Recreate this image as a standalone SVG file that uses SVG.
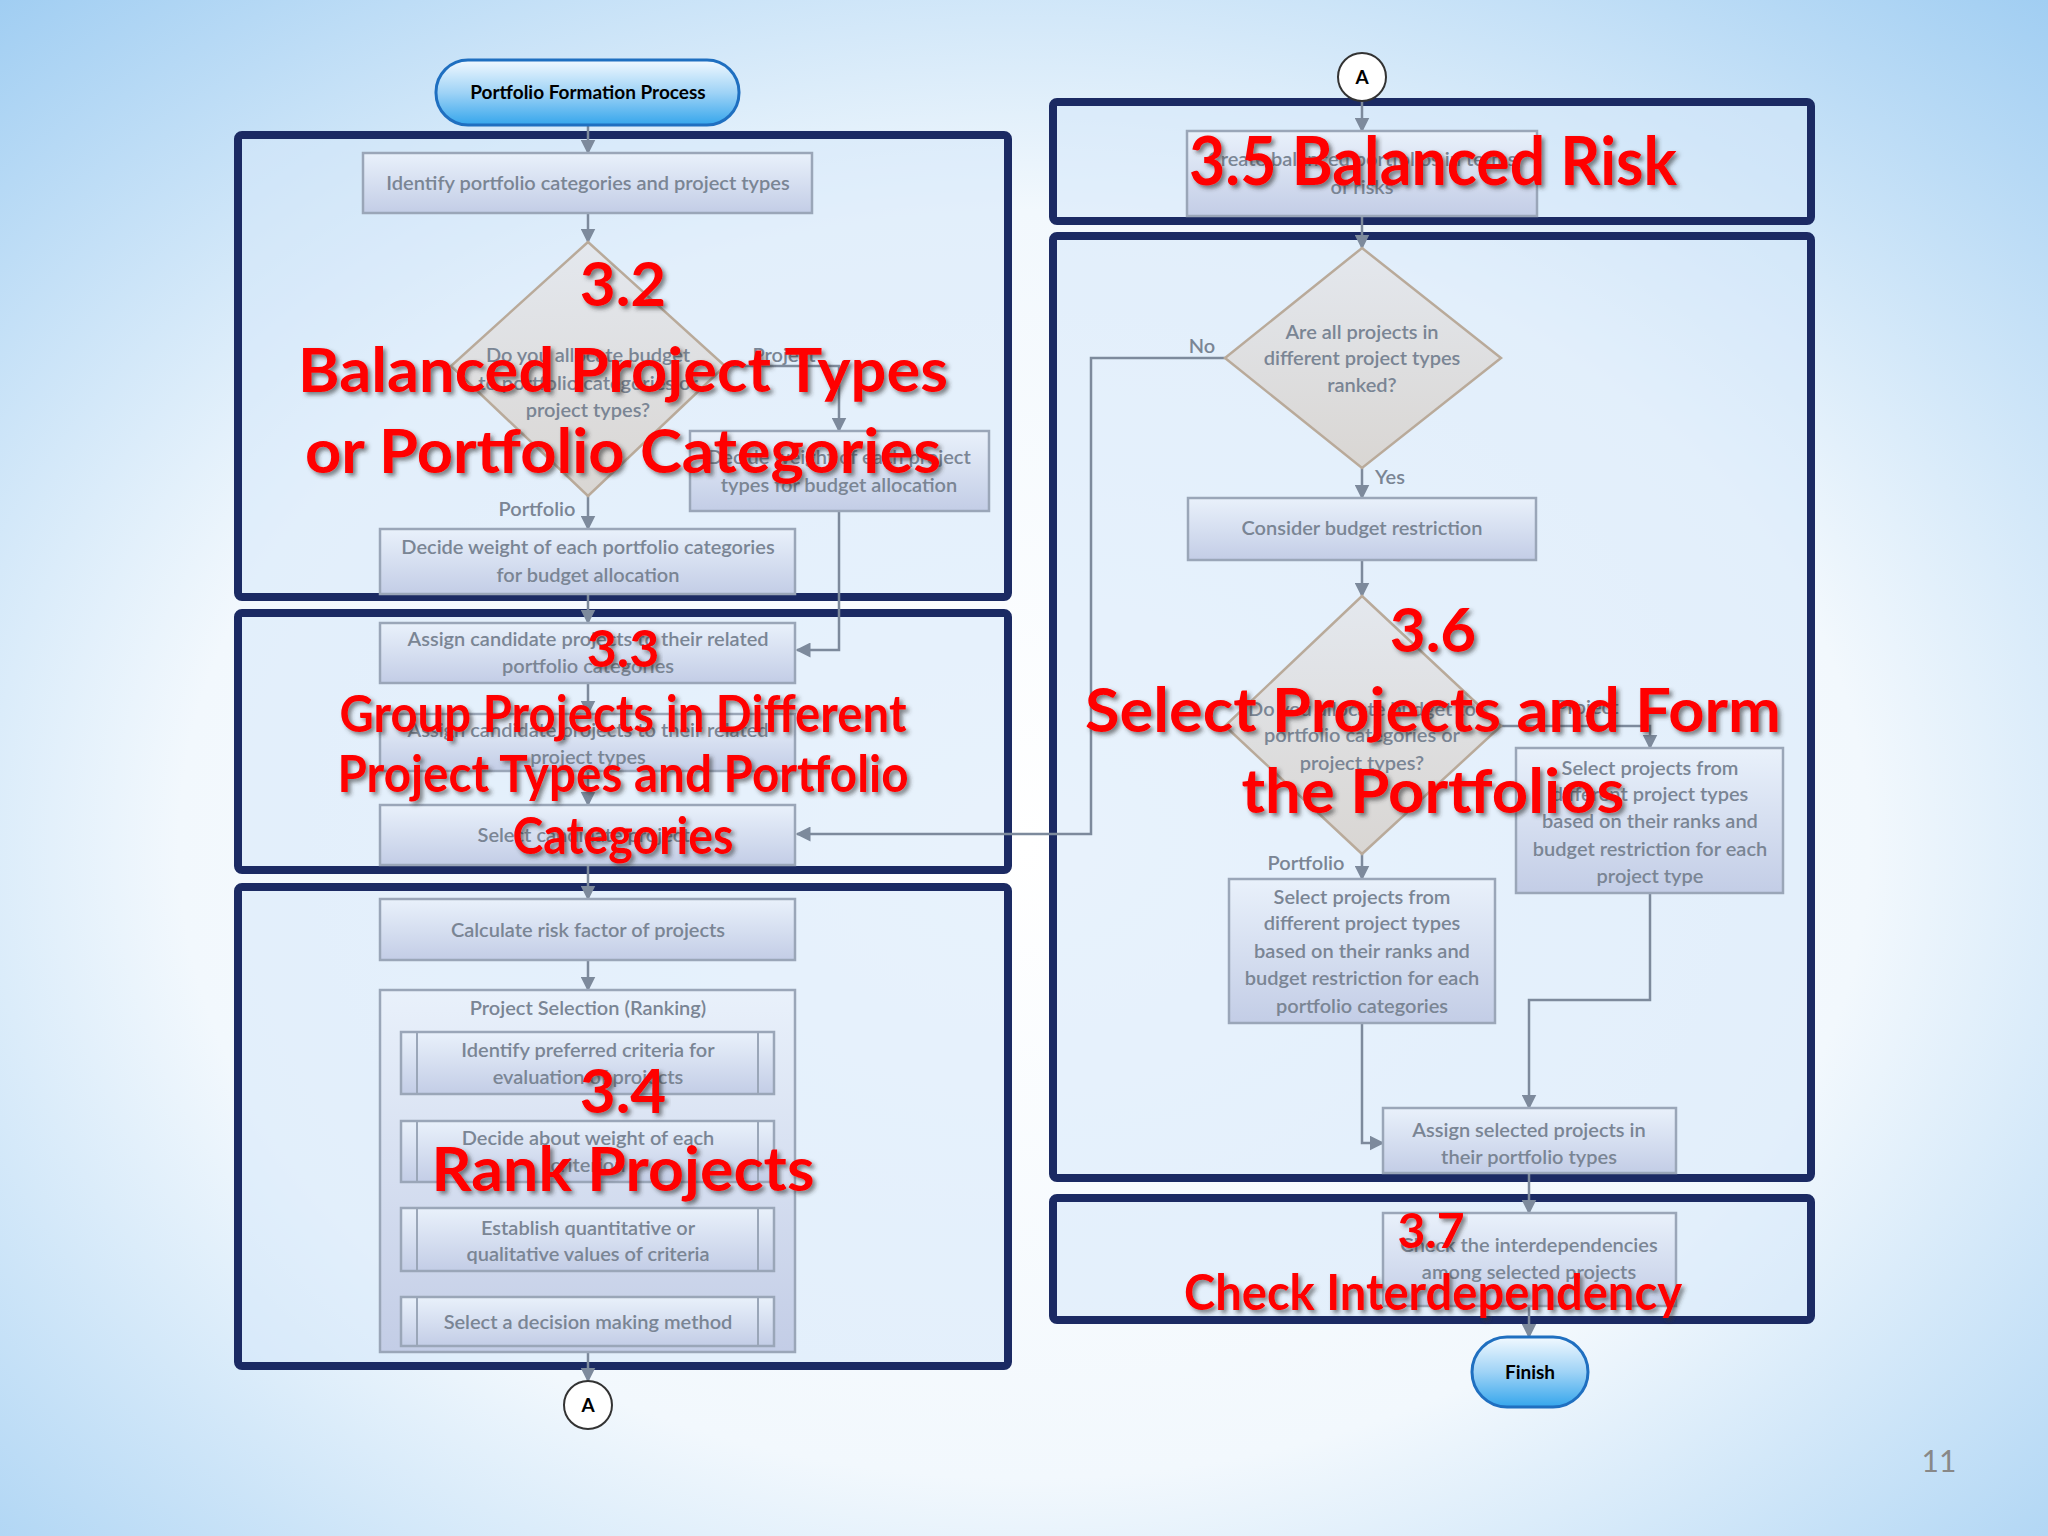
<svg xmlns="http://www.w3.org/2000/svg" width="2048" height="1536" viewBox="0 0 2048 1536">
<defs>
<radialGradient id="bg" cx="0.5" cy="0.55" r="0.75">
<stop offset="0" stop-color="#ffffff"/><stop offset="0.55" stop-color="#f2f8fd"/><stop offset="1" stop-color="#9fcdf2"/>
</radialGradient>
<linearGradient id="box" x1="0" y1="0" x2="0" y2="1"><stop offset="0" stop-color="#e9f1fb"/><stop offset="1" stop-color="#c3cde6"/></linearGradient>
<linearGradient id="dia" x1="0" y1="0" x2="0" y2="1"><stop offset="0" stop-color="#e4e8ee"/><stop offset="1" stop-color="#d9d6d3"/></linearGradient>
<linearGradient id="pill" x1="0" y1="0" x2="0" y2="1"><stop offset="0" stop-color="#f2f9ff"/><stop offset="0.5" stop-color="#9fd3f6"/><stop offset="1" stop-color="#35a6ec"/></linearGradient>
<marker id="ar" viewBox="0 0 10 10" refX="9" refY="5" markerWidth="6" markerHeight="6" orient="auto"><path d="M0,0 L10,5 L0,10 z" fill="#7d8a9c"/></marker>
<filter id="sh" x="-5%" y="-20%" width="110%" height="140%"><feDropShadow dx="3" dy="3" stdDeviation="2" flood-color="#333" flood-opacity="0.6"/></filter>
</defs>
<style>
.panel{fill:#d6e8f9;fill-opacity:0.55;stroke:#1b2a63;stroke-width:8}
.n{fill:url(#box);stroke:#9aa6b8;stroke-width:2.5}
.d{fill:url(#dia);stroke:#b9aa9a;stroke-width:2.5}
.t{font-family:Lato,"Liberation Sans",sans-serif;font-size:20px;fill:#7a8594;text-anchor:middle;font-weight:600}
.pt{font-family:Lato,"Liberation Sans",sans-serif;font-size:19px;fill:#000;text-anchor:middle;font-weight:700}
.c{fill:none;stroke:#7d8a9c;stroke-width:2.5;marker-end:url(#ar)}
.r{font-family:Lato,"Open Sans",sans-serif;font-weight:700;fill:#ff0000;text-anchor:middle;filter:url(#sh)}
.pill{fill:url(#pill);stroke:#1f6fc0;stroke-width:3}
.circ{fill:#fff;stroke:#333;stroke-width:2}
</style>
<rect width="2048" height="1536" fill="url(#bg)"/>
<g id="panels">
<rect class="panel" x="238" y="135" width="770" height="462" rx="4"/>
<rect class="panel" x="238" y="613" width="770" height="257" rx="4"/>
<rect class="panel" x="238" y="887" width="770" height="479" rx="4"/>
<rect class="panel" x="1053" y="102" width="758" height="119" rx="4"/>
<rect class="panel" x="1053" y="236" width="758" height="942" rx="4"/>
<rect class="panel" x="1053" y="1198" width="758" height="122" rx="4"/>
</g>
<g id="connectors">
<path class="c" d="M588,125 V153"/>
<path class="c" d="M588,213 V242"/>
<path class="c" d="M725,366 H839 V431"/>
<path class="c" d="M588,496 V529"/>
<path class="c" d="M588,594 V623"/>
<path class="c" d="M839,511 V650 H797"/>
<path class="c" d="M588,683 V714"/>
<path class="c" d="M588,771 V805"/>
<path class="c" d="M588,865 V899"/>
<path class="c" d="M588,960 V990"/>
<path class="c" d="M588,1094 V1121"/>
<path class="c" d="M588,1182 V1208"/>
<path class="c" d="M588,1271 V1297"/>
<path class="c" d="M588,1352 V1381"/>
<path class="c" d="M1362,101 V131"/>
<path class="c" d="M1362,216 V248"/>
<path class="c" d="M1362,468 V498"/>
<path class="c" d="M1225,358 H1091 V834 H797"/>
<path class="c" d="M1362,560 V596"/>
<path class="c" d="M1501,726 H1650 V748"/>
<path class="c" d="M1362,854 V879"/>
<path class="c" d="M1650,893 V1000 H1529 V1108"/>
<path class="c" d="M1362,1023 V1143 H1383"/>
<path class="c" d="M1529,1173 V1213"/>
<path class="c" d="M1529,1306 V1337"/>
</g>
<g id="start"><rect class="pill" x="436" y="60" width="303" height="65" rx="32"/><text class="pt" x="588" y="99">Portfolio Formation Process</text></g>
<g id="n1"><rect class="n" x="363" y="153" width="449" height="60"/><text class="t" x="588" y="190">Identify portfolio categories and project types</text></g>
<g id="d1"><polygon class="d" points="588,242 725,366 588,496 451,366"/><text class="t" x="588" y="362">Do you allocate budget</text><text class="t" x="588" y="390">to portfolio categories or</text><text class="t" x="588" y="417">project types?</text></g>
<text class="t" x="784" y="362">Project</text>
<text class="t" x="537" y="516">Portfolio</text>
<g id="n2"><rect class="n" x="690" y="431" width="299" height="80"/><text class="t" x="839" y="464">Decide weight of each project</text><text class="t" x="839" y="492">types for budget allocation</text></g>
<g id="n3"><rect class="n" x="380" y="529" width="415" height="65"/><text class="t" x="588" y="554">Decide weight of each portfolio categories</text><text class="t" x="588" y="582">for budget allocation</text></g>
<g id="n4"><rect class="n" x="380" y="623" width="415" height="60"/><text class="t" x="588" y="646">Assign candidate projects to their related</text><text class="t" x="588" y="673">portfolio categories</text></g>
<g id="n5"><rect class="n" x="380" y="714" width="415" height="57"/><text class="t" x="588" y="737">Assign candidate projects to their related</text><text class="t" x="588" y="764">project types</text></g>
<g id="n6"><rect class="n" x="380" y="805" width="415" height="60"/><text class="t" x="588" y="842">Select candidate projects</text></g>
<g id="n7"><rect class="n" x="380" y="899" width="415" height="61"/><text class="t" x="588" y="937">Calculate risk factor of projects</text></g>
<g id="n8"><rect class="n" x="380" y="990" width="415" height="362"/><text class="t" x="588" y="1015">Project Selection (Ranking)</text>
<rect class="n" x="401" y="1032" width="373" height="62"/><path d="M417,1032V1094M758,1032V1094" stroke="#9aa6b8" stroke-width="2"/><text class="t" x="588" y="1057">Identify preferred criteria for</text><text class="t" x="588" y="1084">evaluation of projects</text>
<rect class="n" x="401" y="1121" width="373" height="61"/><path d="M417,1121V1182M758,1121V1182" stroke="#9aa6b8" stroke-width="2"/><text class="t" x="588" y="1145">Decide about weight of each</text><text class="t" x="588" y="1172">criterion</text>
<rect class="n" x="401" y="1208" width="373" height="63"/><path d="M417,1208V1271M758,1208V1271" stroke="#9aa6b8" stroke-width="2"/><text class="t" x="588" y="1235">Establish quantitative or</text><text class="t" x="588" y="1261">qualitative values of criteria</text>
<rect class="n" x="401" y="1297" width="373" height="49"/><path d="M417,1297V1346M758,1297V1346" stroke="#9aa6b8" stroke-width="2"/><text class="t" x="588" y="1329">Select a decision making method</text></g>
<g id="a1"><circle class="circ" cx="588" cy="1405" r="24"/><text class="pt" x="588" y="1412">A</text></g>
<g id="a2"><circle class="circ" cx="1362" cy="77" r="24"/><text class="pt" x="1362" y="84">A</text></g>
<g id="n9"><rect class="n" x="1187" y="131" width="350" height="85"/><text class="t" x="1362" y="166">Create balanced portfolios in terms</text><text class="t" x="1362" y="194">of risks</text></g>
<g id="d2"><polygon class="d" points="1362,248 1501,358 1362,468 1225,358"/><text class="t" x="1362" y="339">Are all projects in</text><text class="t" x="1362" y="365">different project types</text><text class="t" x="1362" y="392">ranked?</text></g>
<text class="t" x="1202" y="353">No</text>
<text class="t" x="1390" y="484">Yes</text>
<g id="n10"><rect class="n" x="1188" y="498" width="348" height="62"/><text class="t" x="1362" y="535">Consider budget restriction</text></g>
<g id="d3"><polygon class="d" points="1362,596 1501,726 1362,854 1225,726"/><text class="t" x="1362" y="716">Do you allocate budget to</text><text class="t" x="1362" y="742">portfolio categories or</text><text class="t" x="1362" y="770">project types?</text></g>
<text class="t" x="1587" y="714">Project</text>
<text class="t" x="1306" y="870">Portfolio</text>
<g id="n11"><rect class="n" x="1516" y="748" width="267" height="145"/><text class="t" x="1650" y="775">Select projects from</text><text class="t" x="1650" y="801">different project types</text><text class="t" x="1650" y="828">based on their ranks and</text><text class="t" x="1650" y="856">budget restriction for each</text><text class="t" x="1650" y="883">project type</text></g>
<g id="n12"><rect class="n" x="1229" y="879" width="266" height="144"/><text class="t" x="1362" y="904">Select projects from</text><text class="t" x="1362" y="930">different project types</text><text class="t" x="1362" y="958">based on their ranks and</text><text class="t" x="1362" y="985">budget restriction for each</text><text class="t" x="1362" y="1013">portfolio categories</text></g>
<g id="n13"><rect class="n" x="1383" y="1108" width="293" height="65"/><text class="t" x="1529" y="1137">Assign selected projects in</text><text class="t" x="1529" y="1164">their portfolio types</text></g>
<g id="n14"><rect class="n" x="1383" y="1213" width="293" height="93"/><text class="t" x="1529" y="1252">Check the interdependencies</text><text class="t" x="1529" y="1279">among selected projects</text></g>
<g id="finish"><rect class="pill" x="1472" y="1337" width="116" height="70" rx="35"/><text class="pt" x="1530" y="1379">Finish</text></g>
<g id="labels">
<text class="r" x="623" y="306" font-size="62">3.2</text>
<text class="r" x="623" y="392" font-size="62" textLength="650" lengthAdjust="spacingAndGlyphs">Balanced Project Types</text>
<text class="r" x="623" y="473" font-size="62" textLength="636" lengthAdjust="spacingAndGlyphs">or Portfolio Categories</text>
<text class="r" x="623" y="667" font-size="52">3.3</text>
<text class="r" x="623" y="732" font-size="52" textLength="567" lengthAdjust="spacingAndGlyphs">Group Projects in Different</text>
<text class="r" x="623" y="792" font-size="52" textLength="571" lengthAdjust="spacingAndGlyphs">Project Types and Portfolio</text>
<text class="r" x="623" y="854" font-size="52" textLength="221" lengthAdjust="spacingAndGlyphs">Categories</text>
<text class="r" x="623" y="1113" font-size="62">3.4</text>
<text class="r" x="623" y="1191" font-size="62" textLength="383" lengthAdjust="spacingAndGlyphs">Rank Projects</text>
<text class="r" x="1433" y="185" font-size="66" textLength="488" lengthAdjust="spacingAndGlyphs">3.5 Balanced Risk</text>
<text class="r" x="1433" y="652" font-size="62">3.6</text>
<text class="r" x="1433" y="732" font-size="62" textLength="696" lengthAdjust="spacingAndGlyphs">Select Projects and Form</text>
<text class="r" x="1433" y="813" font-size="62" textLength="383" lengthAdjust="spacingAndGlyphs">the Portfolios</text>
<text class="r" x="1431" y="1248" font-size="48">3.7</text>
<text class="r" x="1433" y="1310" font-size="50" textLength="498" lengthAdjust="spacingAndGlyphs">Check Interdependency</text>
</g>
<text x="1939" y="1472" font-family="Lato,'Liberation Sans',sans-serif" font-size="30" fill="#888" text-anchor="middle">11</text>
</svg>
